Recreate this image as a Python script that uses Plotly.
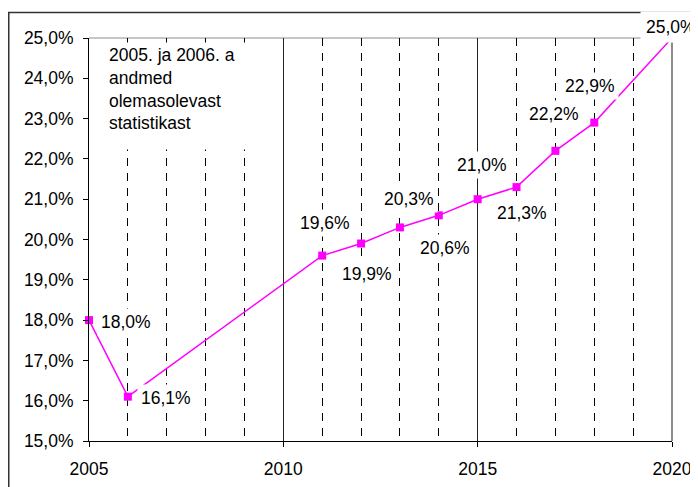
import plotly.graph_objects as go

# ---- data ----
years = [2005, 2006, 2011, 2012, 2013, 2014, 2015, 2016, 2017, 2018, 2020]
values = [18.0, 16.1, 19.6, 19.9, 20.3, 20.6, 21.0, 21.3, 22.2, 22.9, 25.0]
note_lines = ["2005. ja 2006. a", "andmed", "olemasolevast", "statistikast"]

# label offsets in pixels (dx, dy) relative to each point, and box padding
label_offsets = [(37, -2), (38, -1), (3, 33), (6, -30), (9, 28), (6, -33),
                 (4, 34), (5, -26), (-1, 37), (-4, 37), (-1, 11)]
label_pads = [3, 3, 3, 3, 3, 3, 3, 3, 3, 3, 5]

FONT = "Liberation Sans, Arial, sans-serif"
FS = 17.5
MAG = "#FF00FF"

OFF = 8  # page body margin
W, H = 698 - OFF, 487 - OFF
# plot area in screen coordinates
SL, SR, ST, SB = 89, 672, 38, 441
L, T = SL - OFF, ST - OFF
R = W - (SR - OFF)
B = H - (SB - OFF)
pw, ph = SR - SL, SB - ST


def sx(px):  # screen x -> paper
    return (px - SL) / pw


def sy(py):  # screen y -> paper
    return (SB - py) / ph


fig = go.Figure()
fig.add_trace(go.Scatter(
    x=years, y=values, mode="lines+markers",
    line=dict(color=MAG, width=1.5),
    marker=dict(symbol="square", size=8, color=MAG),
    cliponaxis=False, showlegend=False, hoverinfo="skip",
))


def fmt(v):
    return f"{v:.1f}".replace(".", ",") + "%"


annotations = []
for xv, yv, (dx, dy), pad in zip(years, values, label_offsets, label_pads):
    annotations.append(dict(
        x=xv, y=yv, xref="x", yref="y", text=fmt(yv), showarrow=False,
        xshift=dx, yshift=dy, bgcolor="white", borderpad=pad,
        font=dict(family=FONT, size=FS, color="black"),
    ))

annotations.append(dict(
    x=sx(106), y=sy(42), xref="paper", yref="paper",
    xanchor="left", yanchor="top", showarrow=False,
    text="<br>".join(note_lines), align="left", valign="top",
    width=150, height=102, bgcolor="white", borderpad=2,
    font=dict(family=FONT, size=FS, color="black"),
))

shapes = [
    # outer frame
    dict(type="line", xref="paper", yref="paper",
         x0=sx(8), x1=sx(710), y0=sy(12.5), y1=sy(12.5),
         line=dict(color="#333333", width=1.5)),
    dict(type="line", xref="paper", yref="paper",
         x0=sx(8.75), x1=sx(8.75), y0=sy(12), y1=sy(500),
         line=dict(color="#333333", width=1.5)),
    # plot area top and right borders (gray)
    dict(type="line", xref="paper", yref="paper", x0=0, x1=1, y0=1, y1=1,
         line=dict(color="#8C8C8C", width=1), layer="below"),
    dict(type="line", xref="paper", yref="paper", x0=1, x1=1, y0=0, y1=1,
         line=dict(color="#8C8C8C", width=2), layer="below"),
]

fig.update_layout(
    width=W, height=H, margin=dict(l=L, r=R, t=T, b=B, autoexpand=False),
    paper_bgcolor="white", plot_bgcolor="white",
    separators=",.",
    font=dict(family=FONT, size=FS, color="black"),
    annotations=annotations, shapes=shapes,
    xaxis=dict(
        range=[2005, 2020], tick0=2005, dtick=5, tickmode="linear",
        showgrid=True, gridcolor="#222222", gridwidth=1,
        showline=True, linecolor="black", linewidth=1,
        ticks="outside", ticklen=5, tickcolor="black",
        ticklabelstandoff=7,
        zeroline=False, tickformat="d", automargin=False,
        minor=dict(dtick=1, tick0=2005, showgrid=True, gridcolor="black",
                   gridwidth=1, griddash="8px,7px", ticks=""),
        tickfont=dict(family=FONT, size=FS),
    ),
    yaxis=dict(
        range=[15, 25], tick0=15, dtick=1, tickmode="linear",
        showgrid=False, zeroline=False,
        showline=True, linecolor="black", linewidth=1,
        ticks="outside", ticklen=5, tickcolor="black",
        ticklabelstandoff=6, automargin=False,
        tickformat=".1f", ticksuffix="%",
        tickfont=dict(family=FONT, size=FS),
    ),
)

fig.write_html("out.html")
